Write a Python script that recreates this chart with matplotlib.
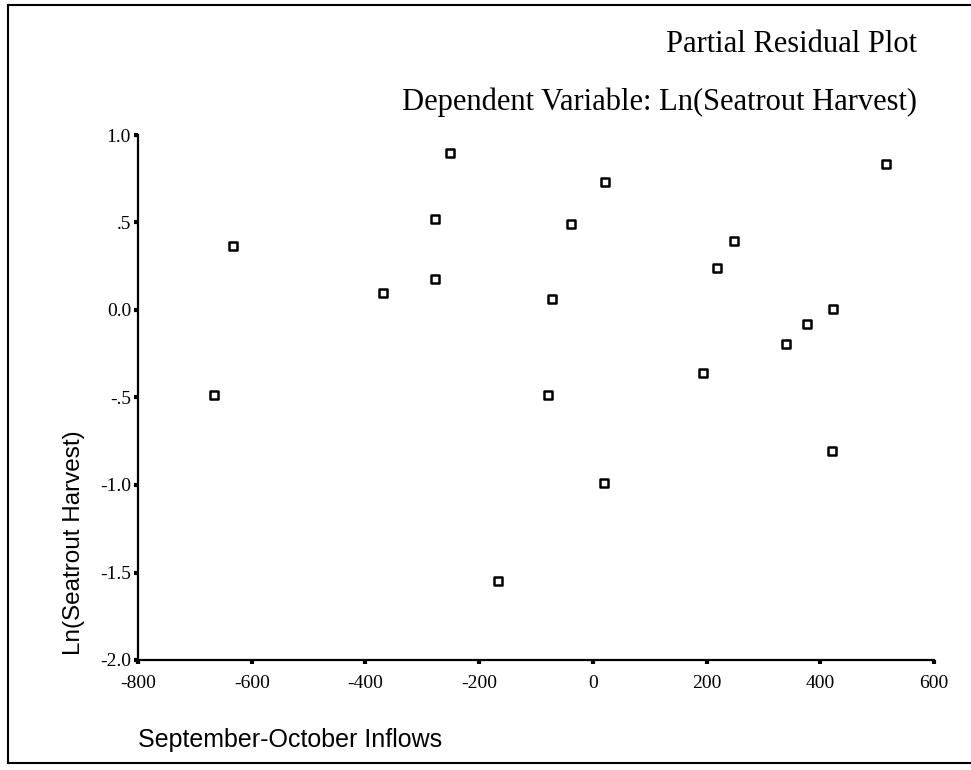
import matplotlib
matplotlib.use("Agg")
import matplotlib.pyplot as plt
from matplotlib.lines import Line2D

plt.rcParams["axes.unicode_minus"] = False

# Partial residuals
inflows = [-666, -633, -369, -277, -278, -252, -167, -79, -71, -38,
           22, 20, 194, 219, 248, 340, 377, 422, 420, 515]
ln_harvest = [-0.486, 0.366, 0.095, 0.175, 0.52, 0.899, -1.55, -0.486, 0.063, 0.491,
              0.73, -0.99, -0.358, 0.238, 0.396, -0.193, -0.082, 0.004, -0.806, 0.833]

x_ticks = [-800, -600, -400, -200, 0, 200, 400, 600]
y_ticks = [-2.0, -1.5, -1.0, -0.5, 0.0, 0.5, 1.0]
y_tick_labels = ["-2.0", "-1.5", "-1.0", "-.5", "0.0", ".5", "1.0"]

serif = "Liberation Serif"
sans = "Liberation Sans"

fig = plt.figure(figsize=(9.71, 7.70), dpi=100)
W, H = 971, 770
ax = fig.add_axes([138 / W, 1 - 660 / H, (934 - 138) / W, (660 - 135) / H])

ax.scatter(inflows, ln_harvest, marker="s", s=36, facecolors="white",
           edgecolors="black", linewidths=1.8, zorder=3)

ax.set_xlim(-800, 600)
ax.set_ylim(-2.0, 1.0)
ax.set_xticks(x_ticks)
ax.set_yticks(y_ticks)
ax.set_yticklabels(y_tick_labels)
ax.spines["top"].set_visible(False)
ax.spines["right"].set_visible(False)
ax.spines["left"].set_linewidth(1.6)
ax.spines["bottom"].set_linewidth(1.6)
ax.tick_params(axis="both", direction="out", length=3, width=3, labelsize=14)
ax.tick_params(axis="x", pad=8)
ax.tick_params(axis="y", pad=2)
for lab in ax.get_xticklabels() + ax.get_yticklabels():
    lab.set_fontfamily(serif)

# titles and axis labels, placed as in the printout
fig.text(917 / W, 1 - 44 / H, "Partial Residual Plot", ha="right", va="center",
         fontsize=22, family=serif)
fig.text(917 / W, 1 - 102 / H, "Dependent Variable: Ln(Seatrout Harvest)", ha="right",
         va="center", fontsize=22, family=serif)
fig.text(138 / W, 1 - 740 / H, "September-October Inflows", ha="left", va="center",
         fontsize=18, family=sans)
fig.text(74 / W, 1 - 655 / H, "Ln(Seatrout Harvest)", ha="center", va="bottom",
         rotation=90, fontsize=17.5, family=sans)

# outer frame of the scanned page (no right edge visible)
frame = dict(color="black", linewidth=1.5, transform=fig.transFigure)
fig.add_artist(Line2D([8 / W, 8 / W], [1 - 5 / H, 1 - 763 / H], **frame))
fig.add_artist(Line2D([8 / W, 1.0], [1 - 5 / H, 1 - 5 / H], **frame))
fig.add_artist(Line2D([8 / W, 1.0], [1 - 763 / H, 1 - 763 / H], **frame))

fig.savefig("out.png", dpi=100)
